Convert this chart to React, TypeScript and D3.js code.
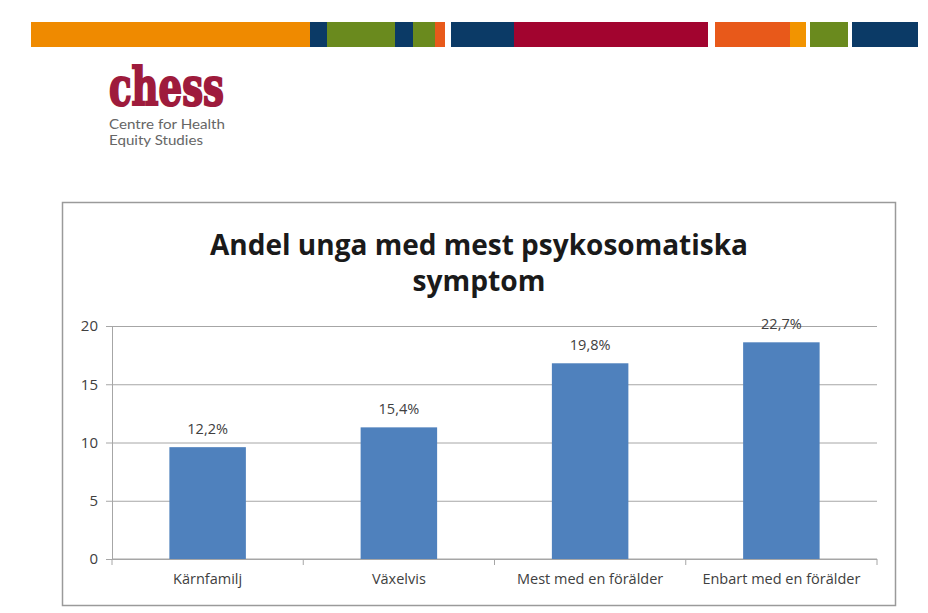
import React, { useEffect, useRef } from 'react';
import * as d3 from 'd3';

// chart data
const categories = ['Kärnfamilj', 'Växelvis', 'Mest med en förälder', 'Enbart med en förälder'];
const barValues = [9.6, 11.3, 16.8, 18.6];
const valueLabels = ['12,2%', '15,4%', '19,8%', '22,7%'];
const yTicks = [0, 5, 10, 15, 20];
const titleLines = ['Andel unga med mest psykosomatiska', 'symptom'];

// decorative banner strip at the top of the slide
const bannerColors = ['#ef8a00', '#0b3a66', '#6a8a1e', '#0b3a66', '#6a8a1e', '#e8591a', null, '#0b3a66', '#a2042f', null, '#e8591a', '#f29400', null, '#6a8a1e', null, '#0b3a66'];
const bannerStops = [31, 310, 327, 395, 413, 435, 445, 451, 514, 708, 715, 790, 806, 810, 848, 852, 918];

const W = 928;
const H = 613;

export default function App() {
  const svgRef = useRef<SVGSVGElement>(null);

  useEffect(() => {
    if (!svgRef.current) return;
    const svg = d3.select(svgRef.current);
    svg.selectAll('*').remove();

    svg.append('rect').attr('width', W).attr('height', H).attr('fill', '#ffffff');

    // Banner
    const banner = svg.append('g');
    bannerColors.forEach((c, i) => {
      if (!c) return;
      banner.append('rect')
        .attr('x', bannerStops[i])
        .attr('y', 22)
        .attr('width', bannerStops[i + 1] - bannerStops[i])
        .attr('height', 25)
        .attr('fill', c);
    });

    // Logo: heavy, tall letters
    svg.append('text')
      .attr('transform', 'translate(109,104.5) scale(1,1.4)')
      .attr('font-family', 'DejaVu Serif')
      .attr('font-weight', 'bold')
      .attr('font-size', 38)
      .attr('textLength', 115)
      .attr('lengthAdjust', 'spacingAndGlyphs')
      .attr('fill', '#9e1b3c')
      .attr('stroke', '#9e1b3c')
      .attr('stroke-width', 1.6)
      .text('chess');
    svg.append('text')
      .attr('x', 109).attr('y', 129)
      .attr('font-family', 'Lato').attr('font-size', 12.5)
      .attr('textLength', 116).attr('lengthAdjust', 'spacingAndGlyphs')
      .attr('fill', '#666').text('Centre for Health');
    svg.append('text')
      .attr('x', 109).attr('y', 144.5)
      .attr('font-family', 'Lato').attr('font-size', 12.5)
      .attr('textLength', 94).attr('lengthAdjust', 'spacingAndGlyphs')
      .attr('fill', '#666').text('Equity Studies');

    // Chart frame
    svg.append('rect')
      .attr('x', 62.5).attr('y', 202.5)
      .attr('width', 833).attr('height', 403)
      .attr('fill', '#fff')
      .attr('stroke', '#9a9a9a')
      .attr('stroke-width', 1.5);

    const titleWidths = [538, 133];
    titleLines.forEach((t, i) => {
      svg.append('text')
        .attr('x', 479)
        .attr('y', 255 + i * 36)
        .attr('text-anchor', 'middle')
        .attr('font-family', 'Open Sans')
        .attr('font-weight', 'bold')
        .attr('font-size', 28)
        .attr('textLength', titleWidths[i])
        .attr('lengthAdjust', 'spacingAndGlyphs')
        .attr('fill', '#1a1a1a')
        .text(t);
    });

    const left = 112, right = 877, top = 326, bottom = 559;

    const x = d3.scaleBand<string>()
      .domain(categories)
      .range([left, right])
      .paddingInner(0.6)
      .paddingOuter(0.3);

    const y = d3.scaleLinear().domain([0, 20]).range([bottom, top]);

    // Gridlines + y axis
    const yAxis = svg.append('g')
      .attr('transform', `translate(${left},0)`)
      .call(d3.axisLeft(y).tickValues(yTicks).tickSize(-(right - left)).tickPadding(14));
    yAxis.select('.domain').attr('stroke', '#a6a6a6');
    yAxis.selectAll('.tick line').attr('stroke', '#a6a6a6').attr('x1', -6);
    yAxis.selectAll('.tick text')
      .attr('font-family', 'Open Sans')
      .attr('font-size', 15)
      .attr('fill', '#404040');

    // X axis
    const xAxis = svg.append('g')
      .attr('transform', `translate(0,${bottom})`)
      .call(d3.axisBottom(x).tickSize(0).tickPadding(15));
    xAxis.select('.domain').attr('stroke', '#a6a6a6').attr('d', `M${left},0H${right}`);
    xAxis.selectAll('.tick text')
      .attr('font-family', 'Open Sans')
      .attr('font-size', 14.5)
      .attr('fill', '#404040');
    const step = x.step();
    d3.range(categories.length + 1).forEach(i => {
      const xx = left + i * step;
      xAxis.append('line')
        .attr('x1', xx).attr('x2', xx)
        .attr('y1', 0).attr('y2', 6)
        .attr('stroke', '#a6a6a6');
    });

    // Bars
    svg.append('g')
      .selectAll('rect')
      .data(categories)
      .join('rect')
      .attr('x', d => x(d)!)
      .attr('y', (d, i) => y(barValues[i]))
      .attr('width', x.bandwidth())
      .attr('height', (d, i) => bottom - y(barValues[i]))
      .attr('fill', '#4f81bd');

    // Value labels
    svg.append('g')
      .selectAll('text')
      .data(categories)
      .join('text')
      .attr('x', d => x(d)! + x.bandwidth() / 2)
      .attr('y', (d, i) => y(barValues[i]) - 13)
      .attr('text-anchor', 'middle')
      .attr('font-family', 'Open Sans')
      .attr('font-size', 14.5)
      .attr('fill', '#404040')
      .text((d, i) => valueLabels[i]);
  }, []);

  return (
    <svg
      ref={svgRef}
      width={W}
      height={H}
      style={{ position: 'absolute', left: 0, top: 0, display: 'block' }}
    />
  );
}
